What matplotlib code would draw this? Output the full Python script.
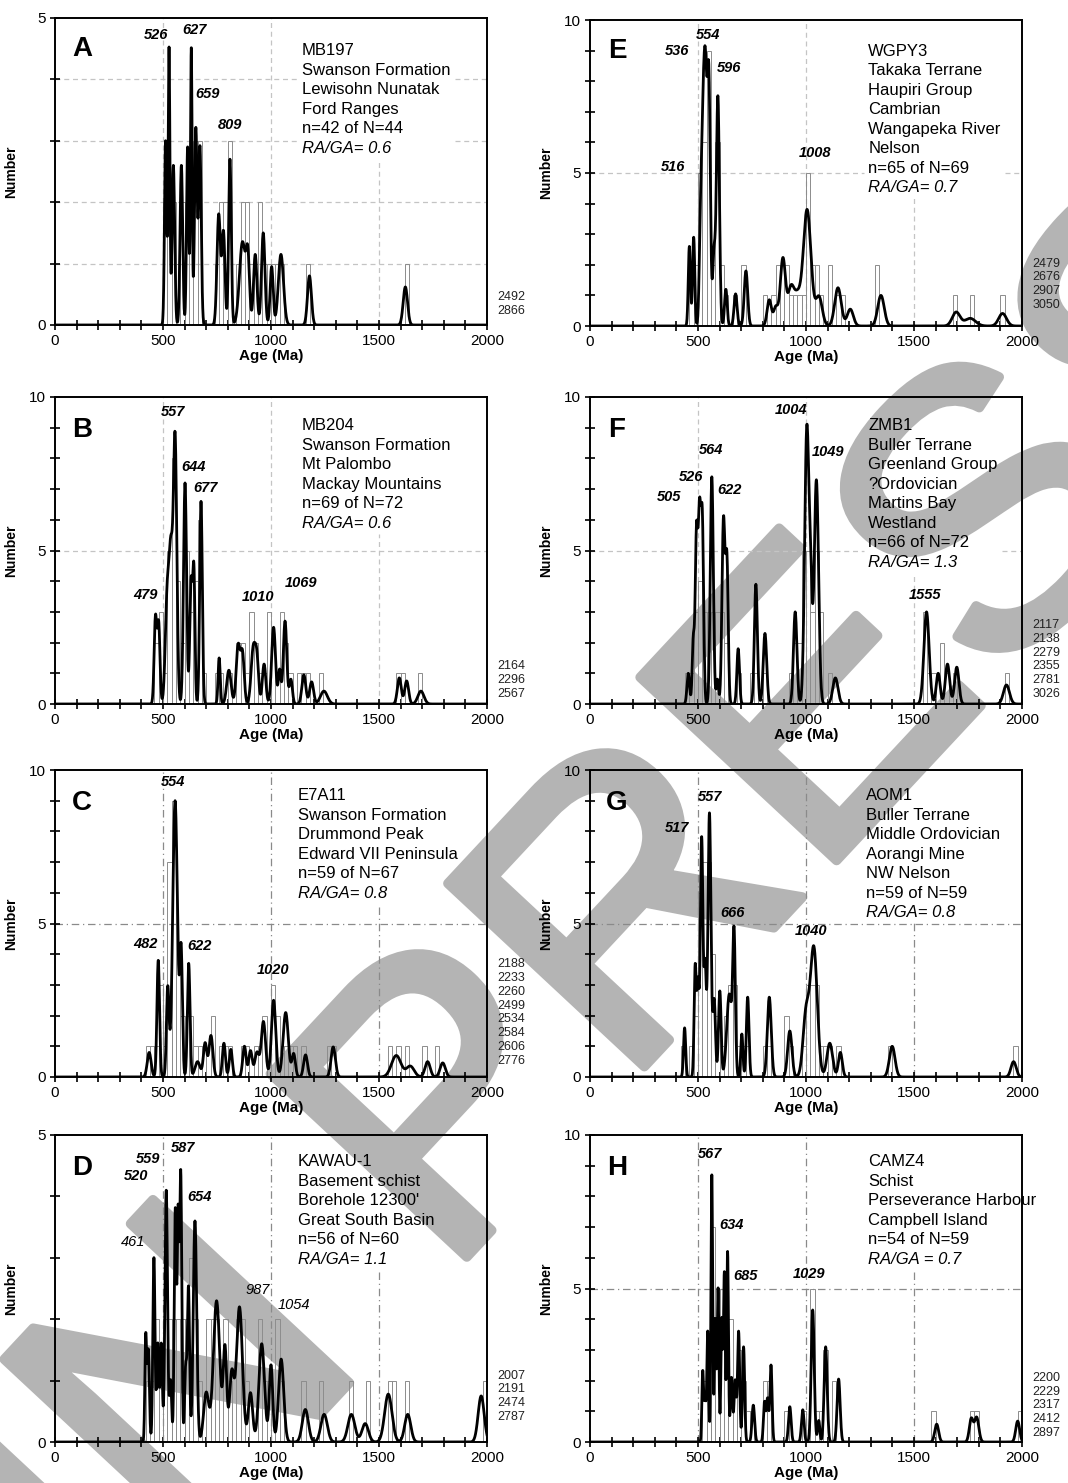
import numpy as np
import matplotlib
matplotlib.use('Agg')
from matplotlib import pyplot as plt
from matplotlib import patheffects
from matplotlib.ticker import MultipleLocator

plt.rcParams['font.family'] = ['Liberation Sans', 'DejaVu Sans']

# ---------------- data ----------------
# histogram: 20 Ma bins (left edges) and counts
A_bins = [500, 520, 540, 560, 580, 600, 620, 640, 660, 740, 760, 780, 800, 840, 860, 880, 900, 920, 940, 960, 980, 1000, 1020, 1040, 1160, 1620]
A_counts = [2, 2, 2, 1, 2, 2, 2, 3, 3, 1, 2, 2, 3, 1, 2, 2, 1, 1, 2, 1, 1, 1, 1, 1, 1, 1]
B_bins = [460, 480, 500, 520, 540, 560, 580, 600, 620, 640, 660, 680, 740, 760, 800, 840, 860, 880, 900, 920, 940, 960, 980, 1000, 1040, 1060, 1080, 1120, 1140, 1160, 1220, 1580, 1600, 1680]
B_counts = [2, 3, 1, 5, 8, 4, 2, 5, 3, 4, 6, 1, 1, 1, 1, 2, 2, 1, 3, 2, 1, 1, 3, 2, 3, 2, 1, 1, 1, 1, 1, 1, 1, 1]
C_bins = [420, 440, 460, 480, 500, 520, 540, 560, 580, 600, 620, 640, 660, 680, 720, 760, 780, 800, 860, 880, 920, 940, 960, 1000, 1020, 1040, 1060, 1080, 1100, 1140, 1260, 1280, 1540, 1580, 1620, 1700, 1760]
C_counts = [1, 1, 1, 3, 1, 7, 9, 4, 2, 2, 2, 1, 1, 1, 2, 1, 1, 1, 1, 1, 1, 1, 2, 3, 2, 1, 1, 1, 1, 1, 1, 1, 1, 1, 1, 1, 1]
D_bins = [420, 440, 460, 480, 500, 520, 540, 560, 580, 600, 620, 640, 660, 700, 720, 740, 760, 780, 800, 840, 860, 880, 940, 960, 980, 1020, 1040, 1140, 1220, 1360, 1440, 1540, 1560, 1620, 1980]
D_counts = [1, 1, 2, 1, 2, 2, 2, 2, 2, 2, 3, 2, 1, 2, 2, 2, 1, 2, 1, 2, 2, 1, 2, 1, 1, 2, 1, 1, 1, 1, 1, 1, 1, 1, 1]
E_bins = [460, 480, 500, 520, 540, 560, 580, 600, 620, 660, 700, 800, 840, 860, 880, 900, 920, 940, 960, 980, 1000, 1020, 1040, 1060, 1100, 1140, 1160, 1320, 1680, 1760, 1900]
E_counts = [2, 2, 5, 6, 9, 2, 6, 2, 1, 1, 2, 1, 1, 2, 2, 2, 1, 1, 1, 1, 5, 2, 2, 1, 2, 1, 1, 2, 1, 1, 1]
F_bins = [440, 460, 480, 500, 520, 540, 560, 580, 600, 620, 680, 740, 760, 800, 920, 940, 960, 980, 1000, 1020, 1040, 1060, 1100, 1540, 1560, 1580, 1620, 1640, 1680, 1920]
F_counts = [1, 1, 3, 4, 3, 3, 3, 3, 3, 2, 1, 1, 1, 1, 1, 2, 2, 5, 5, 3, 5, 3, 1, 3, 1, 1, 2, 1, 1, 1]
G_bins = [420, 460, 480, 500, 520, 540, 560, 580, 600, 620, 640, 660, 680, 700, 720, 800, 820, 900, 920, 980, 1000, 1020, 1040, 1060, 1080, 1100, 1140, 1380, 1960]
G_counts = [1, 1, 2, 6, 7, 7, 4, 2, 1, 2, 3, 3, 1, 1, 1, 1, 1, 2, 1, 1, 3, 3, 3, 1, 1, 1, 1, 1, 1]
H_bins = [520, 540, 560, 580, 600, 620, 640, 660, 680, 700, 720, 740, 800, 820, 900, 980, 1020, 1040, 1060, 1080, 1120, 1580, 1760, 1780, 1980]
H_counts = [2, 3, 7, 5, 4, 4, 4, 2, 3, 2, 1, 1, 2, 2, 1, 1, 5, 1, 1, 3, 2, 1, 1, 1, 1]

# probability curve components: peak age, height, spread (Ma)
A_pk = [512, 528, 548, 585, 614, 631, 652, 671, 758, 780, 810, 868, 893, 927, 964, 1003, 1046, 1178, 1622]
A_ph = [3.0, 4.5, 2.6, 2.6, 2.9, 4.5, 3.2, 2.9, 1.8, 1.5, 2.7, 1.35, 1.0, 1.15, 1.5, 0.95, 1.15, 0.8, 0.62]
A_pw = [5, 4, 6, 6, 5, 4, 6, 6, 8, 7, 6, 14, 8, 8, 8, 7, 12, 9, 10]
B_pk = [465, 480, 520, 537, 556, 602, 630, 643, 676, 760, 805, 848, 868, 918, 935, 968, 1012, 1040, 1065, 1092, 1152, 1188, 1245, 1594, 1628, 1694]
B_ph = [2.8, 2.6, 3.6, 4.4, 8.6, 7.2, 4.0, 4.2, 6.6, 1.5, 1.1, 1.9, 1.6, 1.8, 1.3, 1.3, 2.5, 1.1, 2.7, 0.8, 0.95, 0.72, 0.42, 0.85, 0.75, 0.42]
B_pw = [6, 6, 9, 8, 8, 7, 6, 5, 6, 5, 10, 9, 8, 10, 8, 8, 9, 6, 8, 7, 9, 9, 16, 9, 9, 14]
C_pk = [436, 478, 522, 556, 584, 619, 660, 695, 722, 782, 814, 877, 905, 935, 965, 1012, 1068, 1105, 1160, 1288, 1580, 1645, 1725, 1795]
C_ph = [0.8, 3.8, 2.9, 9.0, 4.0, 3.7, 0.5, 1.1, 1.35, 1.1, 0.9, 1.0, 0.85, 0.8, 1.8, 2.5, 2.1, 0.75, 0.72, 0.98, 0.7, 0.35, 0.5, 0.46]
C_pw = [9, 6, 6, 11, 6, 6, 12, 8, 9, 7, 7, 8, 8, 10, 10, 10, 12, 8, 9, 10, 22, 18, 12, 12]
D_pk = [420, 432, 458, 476, 492, 515, 535, 557, 570, 582, 605, 618, 648, 700, 748, 787, 818, 854, 905, 957, 1000, 1047, 1159, 1246, 1372, 1436, 1543, 1633, 1973]
D_ph = [1.7, 1.5, 3.0, 1.6, 1.6, 4.1, 1.0, 3.8, 3.5, 4.4, 1.2, 2.5, 3.6, 0.8, 2.3, 1.5, 1.1, 2.2, 0.8, 1.6, 1.25, 1.35, 0.53, 0.45, 0.45, 0.3, 0.78, 0.45, 0.75]
D_pw = [4, 5, 5, 5, 5, 6, 5, 5, 4, 5, 5, 5, 8, 12, 15, 8, 10, 14, 10, 13, 8, 12, 14, 15, 16, 15, 17, 14, 14]
E_pk = [460, 480, 512, 523, 534, 550, 574, 592, 629, 674, 722, 830, 860, 893, 930, 960, 1005, 1060, 1148, 1205, 1347, 1695, 1760, 1910]
E_ph = [2.6, 2.9, 3.4, 4.8, 7.6, 8.0, 2.3, 7.5, 1.2, 1.05, 1.8, 0.85, 0.6, 2.2, 1.2, 0.9, 3.8, 0.95, 1.25, 0.55, 1.0, 0.45, 0.25, 0.41]
E_pw = [5, 5, 6, 6, 7, 7, 6, 7, 6, 7, 8, 10, 10, 12, 14, 15, 18, 15, 15, 14, 15, 18, 25, 18]
F_pk = [455, 478, 493, 507, 520, 564, 590, 618, 634, 686, 768, 810, 950, 1004, 1022, 1048, 1136, 1558, 1612, 1655, 1698, 1928]
F_ph = [1.0, 2.0, 5.5, 5.8, 5.8, 7.4, 0.8, 6.0, 4.5, 1.8, 3.9, 2.3, 3.0, 9.0, 3.0, 7.3, 0.85, 3.0, 1.0, 1.3, 1.2, 0.62]
F_pw = [6, 5, 6, 6, 6, 7, 5, 7, 6, 6, 7, 8, 8, 10, 7, 10, 12, 12, 9, 10, 10, 14]
G_pk = [438, 487, 500, 517, 533, 553, 575, 601, 645, 667, 703, 730, 830, 925, 1000, 1036, 1110, 1159, 1399, 1961]
G_ph = [1.6, 3.6, 3.0, 7.8, 3.5, 8.6, 2.5, 2.8, 2.7, 4.4, 1.4, 2.6, 2.6, 1.5, 2.0, 4.2, 1.1, 0.8, 1.0, 0.5]
G_pw = [5, 5, 5, 6, 5, 7, 6, 6, 12, 6, 5, 6, 9, 10, 14, 16, 13, 9, 13, 12]
H_pk = [522, 533, 545, 564, 580, 593, 610, 622, 637, 655, 672, 688, 711, 756, 808, 822, 838, 925, 985, 1031, 1059, 1091, 1151, 1605, 1765, 1790, 1980]
H_ph = [2.3, 1.4, 3.6, 8.7, 4.0, 5.0, 4.0, 5.5, 6.2, 2.1, 2.0, 3.6, 3.1, 1.2, 1.3, 1.4, 2.5, 1.15, 1.05, 4.3, 0.7, 3.1, 2.05, 0.58, 0.75, 0.8, 0.68]
H_pw = [4, 4, 4, 4, 4, 4, 4, 4, 4, 5, 5, 5, 5, 6, 5, 5, 5, 6, 6, 7, 5, 7, 7, 9, 9, 10, 9]

# peak age labels
A_lab = ['526', '627', '659', '809']
B_lab = ['557', '644', '677', '479', '1010', '1069']
C_lab = ['554', '482', '622', '1020']
D_lab = ['559', '520', '587', '654', '461', '987', '1054']
E_lab = ['554', '536', '596', '516', '1008']
F_lab = ['1004', '1049', '564', '526', '505', '622', '1555']
G_lab = ['557', '517', '666', '1040']
H_lab = ['567', '634', '685', '1029']

# sample descriptions
A_info = ['MB197', 'Swanson Formation', 'Lewisohn Nunatak', 'Ford Ranges', 'n=42 of N=44', 'RA/GA= 0.6']
B_info = ['MB204', 'Swanson Formation', 'Mt Palombo', 'Mackay Mountains', 'n=69 of N=72', 'RA/GA= 0.6']
C_info = ['E7A11', 'Swanson Formation', 'Drummond Peak', 'Edward VII Peninsula', 'n=59 of N=67', 'RA/GA= 0.8']
D_info = ['KAWAU-1', 'Basement schist', "Borehole 12300'", 'Great South Basin', 'n=56 of N=60', 'RA/GA= 1.1']
E_info = ['WGPY3', 'Takaka Terrane', 'Haupiri Group', 'Cambrian', 'Wangapeka River', 'Nelson', 'n=65 of N=69', 'RA/GA= 0.7']
F_info = ['ZMB1', 'Buller Terrane', 'Greenland Group', '?Ordovician', 'Martins Bay', 'Westland', 'n=66 of N=72', 'RA/GA= 1.3']
G_info = ['AOM1', 'Buller Terrane', 'Middle Ordovician', 'Aorangi Mine', 'NW Nelson', 'n=59 of N=59', 'RA/GA= 0.8']
H_info = ['CAMZ4', 'Schist', 'Perseverance Harbour', 'Campbell Island', 'n=54 of N=59', 'RA/GA = 0.7']

# ages older than 2000 Ma (listed beside each plot)
A_old = ['2492', '2866']
B_old = ['2164', '2296', '2567']
C_old = ['2188', '2233', '2260', '2499', '2534', '2584', '2606', '2776']
D_old = ['2007', '2191', '2474', '2787']
E_old = ['2479', '2676', '2907', '3050']
F_old = ['2117', '2138', '2279', '2355', '2781', '3026']
G_old = []
H_old = ['2200', '2229', '2317', '2412', '2897']

ymax = {'A': 5, 'B': 10, 'C': 10, 'D': 5, 'E': 10, 'F': 10, 'G': 10, 'H': 10}

# ---------------- layout ----------------
W, H = 1068, 1483
px = {  # left, top, bottom of each plot box in pixels
    'A': (55, 18, 325), 'B': (55, 397, 704), 'C': (55, 770, 1077), 'D': (55, 1135, 1442),
    'E': (590, 20, 326), 'F': (590, 397, 704), 'G': (590, 770, 1077), 'H': (590, 1135, 1442)}
lab_xy = {
    'A': ([468, 644, 704, 810], [4.72, 4.80, 3.76, 3.26]),
    'B': ([546, 639, 699, 417, 940, 1139], [9.51, 7.72, 7.04, 3.55, 3.49, 3.94]),
    'C': ([546, 417, 667, 1009], [9.61, 4.33, 4.27, 3.49]),
    'D': ([431, 375, 593, 667, 361, 940, 1106], [4.61, 4.33, 4.79, 3.99, 3.26, 2.48, 2.23]),
    'E': ([546, 403, 644, 384, 1042], [9.51, 8.99, 8.43, 5.20, 5.65]),
    'F': ([931, 1102, 560, 468, 366, 648, 1551], [9.58, 8.21, 8.27, 7.39, 6.74, 6.97, 3.55]),
    'G': ([556, 403, 662, 1023], [9.12, 8.11, 5.34, 4.76]),
    'H': ([556, 653, 718, 1014], [9.38, 7.07, 5.41, 5.47])}
plain_labels = {'461', '987', '1054'}
info_xy = {'A': (0.572, 0.917), 'B': (0.572, 0.931), 'C': (0.562, 0.941), 'D': (0.562, 0.938),
           'E': (0.644, 0.923), 'F': (0.644, 0.931), 'G': (0.639, 0.941), 'H': (0.644, 0.938)}
old_y = {'A': 0.026, 'B': 0.013, 'C': 0.033, 'D': 0.062, 'E': 0.049, 'F': 0.013, 'G': 0.0, 'H': 0.01}
hgrid = {'A': [1, 2, 3, 4], 'B': [5], 'C': [5], 'D': [], 'E': [5], 'F': [5], 'G': [5], 'H': [5]}
dark_grid = {'C', 'D', 'G', 'H'}

data = {p: dict(bins=globals()[p + '_bins'], counts=globals()[p + '_counts'],
                pk=globals()[p + '_pk'], ph=globals()[p + '_ph'], pw=globals()[p + '_pw'],
                lab=globals()[p + '_lab'], info=globals()[p + '_info'], old=globals()[p + '_old'])
        for p in 'ABCDEFGH'}

fig = plt.figure(figsize=(W / 100, H / 100), dpi=100)
renderer = fig.canvas.get_renderer()
age = np.arange(0, 2001, 1.0)

# big grey watermark lettering behind the (transparent) plots
fig.text(726 / W, 1 - 979 / H, 'IN PRESS', fontsize=281, rotation=47, rotation_mode='anchor',
         ha='center', va='baseline', color='#b4b4b4', zorder=-5, family=['Liberation Sans'],
         path_effects=[patheffects.withStroke(linewidth=7, foreground='#b4b4b4')])

for p in 'ABCDEFGH':
    d = data[p]
    l, t, b = px[p]
    ax = fig.add_axes([l / W, 1 - b / H, 432 / W, (b - t) / H])
    ax.patch.set_alpha(0)
    ax.set_xlim(0, 2000)
    ax.set_ylim(0, ymax[p])

    # sample description, one line per text
    ix, iy = info_xy[p]
    step = 19.5 / (b - t)
    boxes = []
    for i, line in enumerate(d['info']):
        tx = ax.text(ix, iy - i * step, line, transform=ax.transAxes, ha='left', va='top',
                     fontsize=12, style='italic' if line.startswith('RA/GA') else 'normal', zorder=5)
        boxes.append(tx.get_window_extent(renderer).transformed(ax.transAxes.inverted()))
    bx0 = min(bb.x0 for bb in boxes) - 0.01
    bx1 = max(bb.x1 for bb in boxes) + 0.01
    by0 = min(bb.y0 for bb in boxes) - 0.01

    # dashed guide lines, broken where the description sits
    gcol = '#8a8a8a' if p in dark_grid else '#c4c4c4'
    gls = (0, (6, 3, 1, 3)) if p in dark_grid else (0, (4, 3))
    for xv in [500, 1000, 1500]:
        top = by0 if bx0 < xv / 2000 < bx1 else 1
        ax.axvline(xv, ymax=top, color=gcol, lw=0.9, ls=gls, zorder=0.5)
    for yv in hgrid[p]:
        if by0 < yv / ymax[p] < 1:
            ax.axhline(yv, xmax=bx0, color=gcol, lw=0.9, ls=gls, zorder=0.5)
            ax.axhline(yv, xmin=bx1, color=gcol, lw=0.9, ls=gls, zorder=0.5)
        else:
            ax.axhline(yv, color=gcol, lw=0.9, ls=gls, zorder=0.5)

    ax.bar(d['bins'], d['counts'], width=20, align='edge', facecolor='none',
           edgecolor='#8c8c8c', lw=0.7, zorder=2)

    curve = np.zeros_like(age)
    for c, h, w in zip(d['pk'], d['ph'], d['pw']):
        curve += h * np.exp(-0.5 * ((age - c) / w) ** 2)
    ax.plot(age, curve, color='black', lw=2.0, zorder=4, solid_joinstyle='round')

    for txt, xv, yv in zip(d['lab'], *lab_xy[p]):
        ax.text(xv, yv, txt, ha='center', va='center', fontsize=10.5, style='italic',
                weight='normal' if (p == 'D' and txt in plain_labels) else 'bold', zorder=5)

    ax.text(0.0625, 0.9 if p in 'AE' else 0.892, p, transform=ax.transAxes, ha='center',
            va='center', fontsize=20, weight='bold', zorder=5)

    if d['old']:
        ax.text(1.024, old_y[p], '\n'.join(d['old']), transform=ax.transAxes, ha='left',
                va='bottom', fontsize=9, color='#222222', linespacing=1.2)

    ax.set_xticks([0, 500, 1000, 1500, 2000])
    ax.set_yticks([0, 5] if ymax[p] == 5 else [0, 5, 10])
    ax.xaxis.set_minor_locator(MultipleLocator(100))
    ax.yaxis.set_minor_locator(MultipleLocator(1))
    ax.tick_params(which='both', direction='inout', length=7, width=1.2, labelsize=11, pad=3)
    for s in ax.spines.values():
        s.set_linewidth(1.4)
        s.set_zorder(6)
    ax.set_xlabel('Age (Ma)', fontsize=11, weight='bold', labelpad=1)
    ax.set_ylabel('Number', fontsize=10, weight='bold')
    ax.yaxis.set_label_coords(-0.086, 0.5)

fig.savefig('out.png', dpi=100)
